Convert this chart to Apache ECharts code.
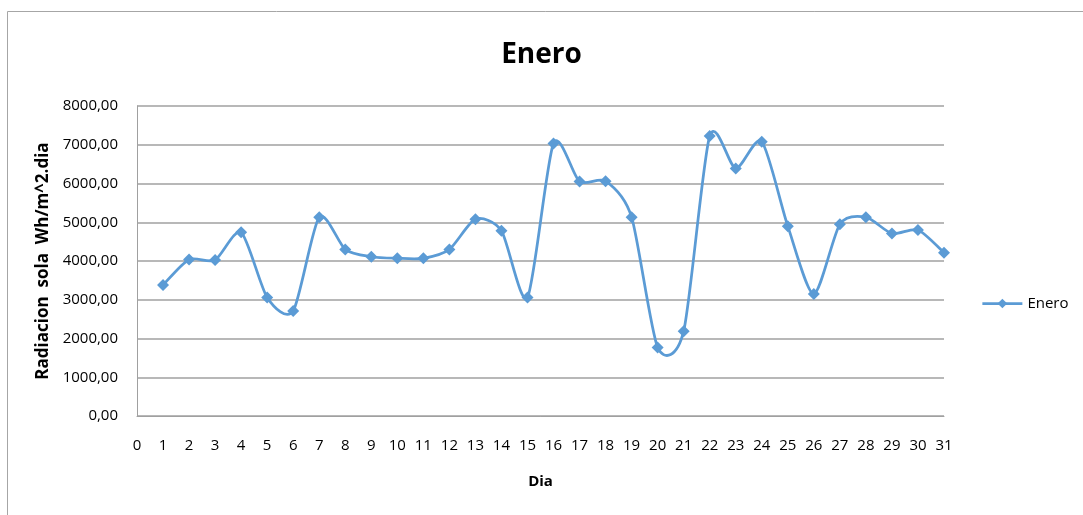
<!DOCTYPE html>
<html>
<head>
<meta charset="utf-8">
<script src="https://cdn.jsdelivr.net/npm/echarts@6/dist/echarts.min.js"></script>
<style>html,body{margin:0;padding:0;background:#fff}#c{width:1083px;height:515px}</style>
</head>
<body>
<div id="c"></div>
<script>
const days = [1,2,3,4,5,6,7,8,9,10,11,12,13,14,15,16,17,18,19,20,21,22,23,24,25,26,27,28,29,30,31];
const enero = [3380,4040,4025,4740,3060,2710,5130,4300,4110,4070,4070,4300,5080,4780,3060,7035,6050,6060,5130,1770,2190,7225,6390,7080,4900,3150,4950,5130,4710,4800,4215];
const seriesName = 'Enero';
const titleText = 'Enero';
const yName = 'Radiacion  sola  Wh/m^2.dia';
const xName = 'Dia';

const BLUE = '#5B9BD5';
const chart = echarts.init(document.getElementById('c'));
const font = 'Open Sans, Lato, sans-serif';

// Excel-like smoothed curve (Catmull-Rom style Bezier), points mapped with api.coord
function renderCurve(params, api) {
  if (params.dataIndex !== 0) return null;
  const pts = days.map((d, i) => api.coord([d, enero[i]]));
  const n = pts.length;
  const t = 0.125;
  let path = 'M' + pts[0][0] + ' ' + pts[0][1];
  for (let i = 0; i < n - 1; i++) {
    const p0 = pts[Math.max(i - 1, 0)];
    const p1 = pts[i];
    const p2 = pts[i + 1];
    const p3 = pts[Math.min(i + 2, n - 1)];
    const c1 = [p1[0] + (p2[0] - p0[0]) * t, p1[1] + (p2[1] - p0[1]) * t];
    const c2 = [p2[0] - (p3[0] - p1[0]) * t, p2[1] - (p3[1] - p1[1]) * t];
    path += ' C' + c1[0] + ' ' + c1[1] + ' ' + c2[0] + ' ' + c2[1] + ' ' + p2[0] + ' ' + p2[1];
  }
  return {
    type: 'path',
    shape: {pathData: path},
    style: {fill: null, stroke: BLUE, lineWidth: 2.75, lineJoin: 'round'}
  };
}

chart.setOption({
  animation: false,
  backgroundColor: '#fff',
  graphic: [{
    type: 'rect', shape: {x: 7.5, y: 11.5, width: 1100, height: 520},
    style: {fill: 'none', stroke: '#A6A6A6', lineWidth: 1}, silent: true
  }],
  title: {
    text: titleText, left: 'center', top: 36,
    textStyle: {fontFamily: font, fontSize: 28, fontWeight: 'bold', color: '#000'}
  },
  legend: {
    data: [{name: seriesName, lineStyle: {opacity: 1, color: BLUE, width: 2.75}, itemStyle: {color: BLUE}}],
    left: 976, top: 291, itemWidth: 40, itemHeight: 12,
    lineStyle: {opacity: 1, color: BLUE, width: 2.75},
    textStyle: {fontFamily: font, fontSize: 15, color: '#000'}, itemGap: 4
  },
  grid: {left: 137, right: 139, top: 106, bottom: 99, containLabel: false},
  xAxis: {
    type: 'value', min: 0, max: 31, interval: 1,
    name: xName, nameLocation: 'middle', nameGap: 58,
    nameTextStyle: {fontFamily: font, fontSize: 15, fontWeight: 'bold', color: '#000'},
    axisLine: {show: true, lineStyle: {color: '#A0A0A0', width: 1}},
    axisTick: {show: false},
    splitLine: {show: false},
    axisLabel: {fontFamily: font, fontSize: 15, color: '#000', margin: 22}
  },
  yAxis: {
    type: 'value', min: 0, max: 8000, interval: 1000,
    name: yName, nameLocation: 'middle', nameGap: 84,
    nameTextStyle: {fontFamily: font, fontSize: 17, fontWeight: 'bold', color: '#000'},
    axisLine: {show: true, lineStyle: {color: '#A0A0A0', width: 1}},
    axisTick: {show: false},
    splitLine: {show: true, lineStyle: {color: '#A0A0A0', width: 1.5}},
    axisLabel: {fontFamily: font, fontSize: 15, color: '#000', margin: 19,
      formatter: v => v.toFixed(2).replace('.', ',')}
  },
  series: [{
    name: 'curve', type: 'custom', renderItem: renderCurve,
    data: [[days[0], enero[0]]], z: 2, silent: true
  }, {
    name: seriesName, type: 'line',
    data: days.map((d, i) => [d, enero[i]]),
    symbol: 'diamond', symbolSize: 12, z: 3,
    lineStyle: {color: BLUE, width: 2.75, opacity: 0},
    itemStyle: {color: BLUE}
  }]
});
</script>
</body>
</html>
